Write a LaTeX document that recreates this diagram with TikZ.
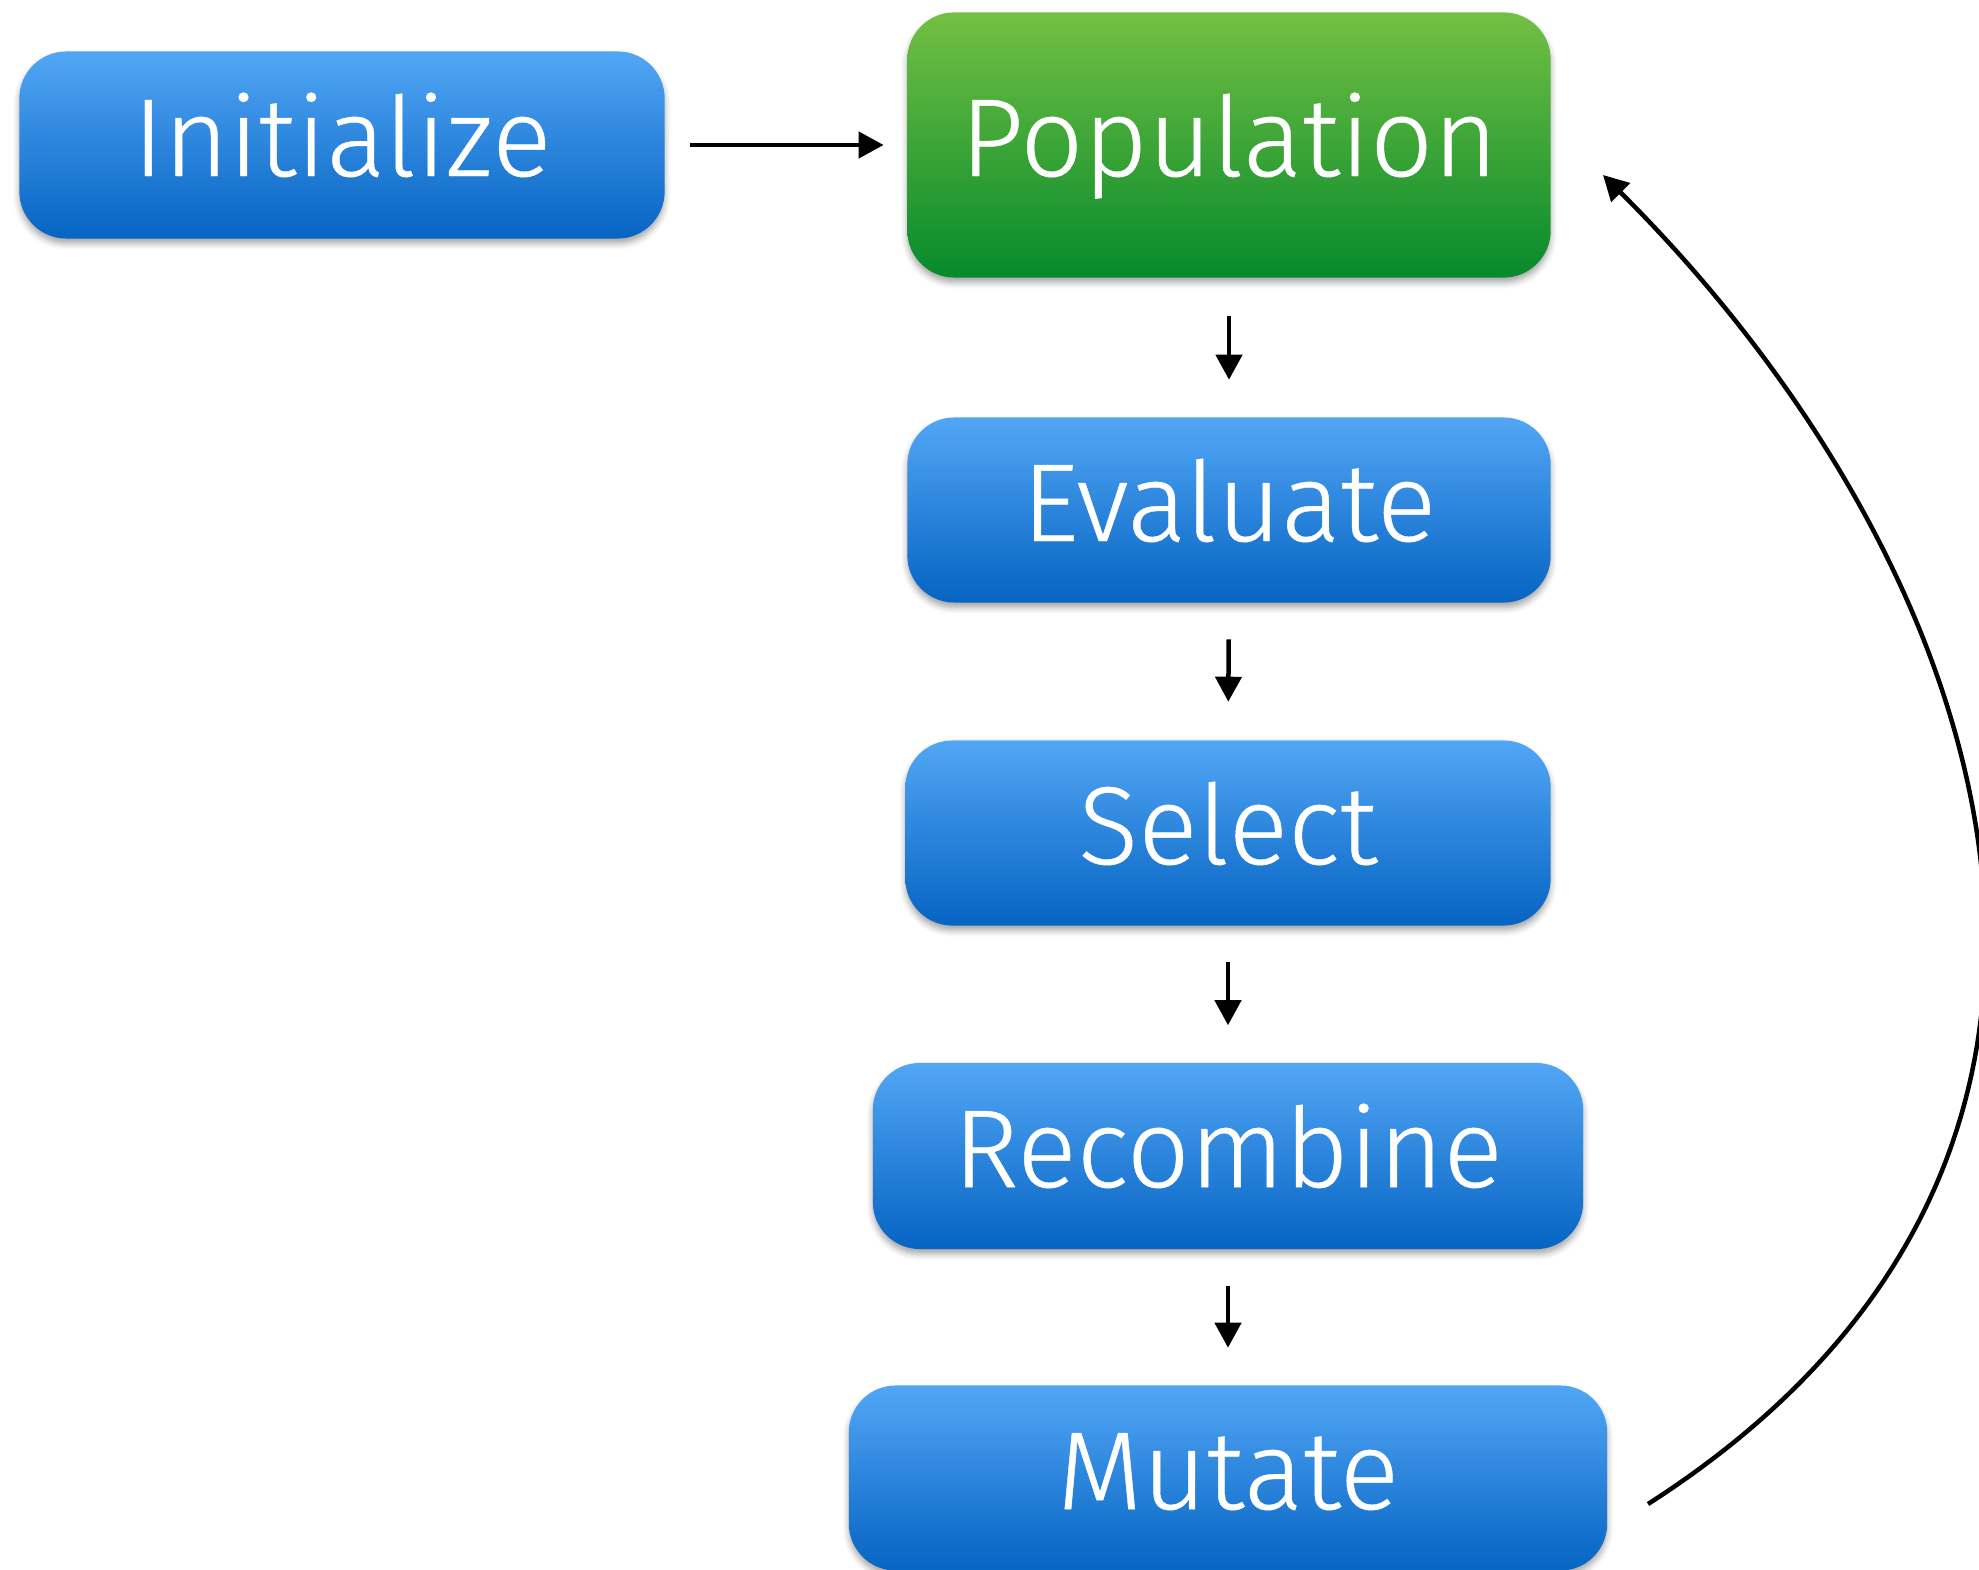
\documentclass[tikz,border=0pt]{standalone}
\usepackage{fontspec}
\setmainfont{Fira Sans Light}[FakeBold=0.4]
\usetikzlibrary{arrows.meta,shadows.blur}

\definecolor{bluetop}{RGB}{82,166,245}
\definecolor{bluebot}{RGB}{6,100,195}
\definecolor{greentop}{RGB}{115,192,67}
\definecolor{greenbot}{RGB}{6,138,44}

\tikzset{
  stagebox/.style={
    rounded corners=0.47cm, inner sep=0pt, text=white,
    font=\fontsize{31.5}{38}\selectfont,
    text height=0.82cm, text depth=0.2cm,
    top color=bluetop, bottom color=bluebot,
    blur shadow={shadow xshift=0cm, shadow yshift=-0.05cm,
                 shadow blur radius=0.06cm, shadow opacity=35}
  },
  popbox/.style={stagebox, top color=greentop, bottom color=greenbot},
  flow/.style={line width=0.045cm, -{Triangle[length=0.25cm,width=0.26cm]}},
}

\begin{document}
\begin{tikzpicture}[x=0.01cm, y=-0.01cm]
  \useasboundingbox (0,0) rectangle (1979,1570);

  % stages of the loop
  \node[stagebox, minimum width=6.45cm, minimum height=1.87cm] (init) at (342,145) {Initialize};
  \node[popbox,   minimum width=6.43cm, minimum height=2.65cm] (pop)  at (1229,145) {Population};
  \node[stagebox, minimum width=6.43cm, minimum height=1.85cm] (eval) at (1229,510) {Evaluate};
  \node[stagebox, minimum width=6.45cm, minimum height=1.85cm] (sel)  at (1228,833) {Select};
  \node[stagebox, minimum width=7.10cm, minimum height=1.86cm] (rec)  at (1228,1156) {Recombine};
  \node[stagebox, minimum width=7.58cm, minimum height=1.85cm] (mut)  at (1228,1478) {Mutate};

  % straight connectors
  \draw[flow, shorten <=0.25cm, shorten >=0.23cm] (init.east) -- (pop.west);
  \draw[flow, shorten <=0.38cm, shorten >=0.37cm] (pop.south) -- (eval.north);
  \draw[flow, shorten <=0.36cm, shorten >=0.38cm] (eval.south) -- (sel.north);
  \draw[flow, shorten <=0.36cm, shorten >=0.37cm] (sel.south) -- (rec.north);
  \draw[flow, shorten <=0.36cm, shorten >=0.37cm] (rec.south) -- (mut.north);

  % feedback loop back to the population
  \coordinate (loopstart) at (1648,1504);
  \coordinate (loopend)   at (1603,175);
  \draw[flow] (loopstart) .. controls (2200,1150) and (1990,560) .. (loopend);
\end{tikzpicture}
\end{document}
